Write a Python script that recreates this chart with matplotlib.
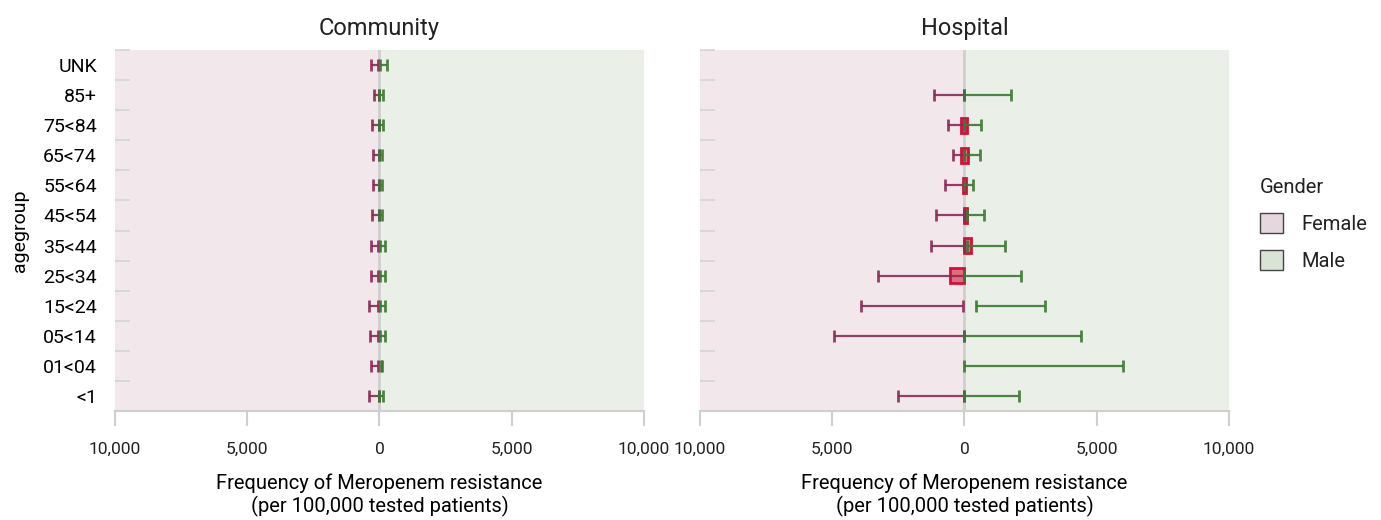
import numpy as np
import matplotlib
matplotlib.use("Agg")
import matplotlib.pyplot as plt
from matplotlib.patches import Patch
from matplotlib.ticker import FuncFormatter

plt.rcParams['font.family'] = ['Roboto', 'DejaVu Sans']
plt.rcParams['text.color'] = '#222222'

# age groups, top to bottom
agegroups = ['UNK', '85+', '75<84', '65<74', '55<64', '45<54',
             '35<44', '25<34', '15<24', '05<14', '01<04', '<1']

# confidence intervals (per 100,000), female values shown to the left
comm_f_lo = [75, 0, 0, 0, 0, 20, 40, 40, 40, 40, 40, 0]
comm_f_hi = [310, 200, 270, 240, 240, 290, 310, 340, 380, 360, 310, 380]
comm_m_lo = [25, 0, 0, 0, 0, 0, 25, 25, 25, 25, 50, 0]
comm_m_hi = [300, 120, 120, 90, 90, 90, 190, 200, 210, 200, 110, 130]

nan = np.nan
hosp_f_lo = [nan, 0, 0, 0, 0, 0, 0, 0, 40, 0, nan, 0]
hosp_f_hi = [nan, 1170, 620, 450, 720, 1090, 1250, 3280, 3920, 4950, nan, 2500]
hosp_m_lo = [nan, 0, 0, 0, 0, 100, 100, 0, 440, 0, 0, 0]
hosp_m_hi = [nan, 1740, 640, 600, 340, 720, 1550, 2150, 3060, 4420, 6000, 2080]

# point estimates (hospital only visible)
hosp_f_est = [0, 0, 150, 130, 70, 0, 0, 550, 0, 0, 0, 0]
hosp_m_est = [0, 0, 100, 130, 50, 100, 250, 0, 0, 0, 0, 0]
comm_f_est = [0] * 12
comm_m_est = [0] * 12

FEMALE = '#8a2b57'
MALE = '#3a7a30'
GRID = '#cfcfcf'

fig = plt.figure(figsize=(13.81, 5.2), dpi=100)
ax1 = fig.add_axes([0.0833, 0.2096, 0.383, 0.6942])
ax2 = fig.add_axes([0.5069, 0.2096, 0.383, 0.6942])

n = len(agegroups)
y = np.arange(n)[::-1]


def draw(ax, title, flo, fhi, mlo, mhi, fest, mest):
    ax.axvspan(-10000, 0, color='#f2e8ec', zorder=0)
    ax.axvspan(0, 10000, color='#eaefe8', zorder=0)
    ax.axvline(0, color=GRID, lw=2, zorder=1)

    fest = np.array(fest, float)
    mest = np.array(mest, float)
    has = (fest + mest) > 0
    ax.barh(y[has], (fest + mest)[has], left=-fest[has], height=0.5,
            facecolor='#e36a78', edgecolor='#d40f3b', linewidth=2, zorder=2)

    flo = np.array(flo, float)
    fhi = np.array(fhi, float)
    mlo = np.array(mlo, float)
    mhi = np.array(mhi, float)
    fm = (-flo - fhi) / 2
    ax.errorbar(fm, y, xerr=(fhi - flo) / 2, fmt='none', ecolor=FEMALE,
                elinewidth=1.6, capsize=4.2, capthick=2, alpha=0.9, zorder=3)
    mm = (mlo + mhi) / 2
    ax.errorbar(mm, y, xerr=(mhi - mlo) / 2, fmt='none', ecolor=MALE,
                elinewidth=1.6, capsize=4.2, capthick=2, alpha=0.9, zorder=3)

    ax.set_xlim(-10000, 10000)
    ax.set_ylim(-0.5, n - 0.5)
    ax.set_xticks([-10000, -5000, 0, 5000, 10000])
    ax.xaxis.set_major_formatter(FuncFormatter(lambda v, p: f'{abs(v):,.0f}'))
    ax.tick_params(axis='x', direction='out', length=11, width=1.5,
                   color=GRID, labelsize=12.5, pad=11, labelcolor='#222222')
    ax.set_yticks(y)
    ax.set_yticks(np.arange(n) + 0.5, minor=True)
    ax.tick_params(axis='y', which='major', length=0, labelsize=14, pad=13)
    ax.tick_params(axis='y', which='minor', direction='in', length=11,
                   width=1.2, color='#d5d5d5')
    for s in ['top', 'right', 'left']:
        ax.spines[s].set_visible(False)
    ax.spines['bottom'].set_color(GRID)
    ax.spines['bottom'].set_linewidth(1.5)
    ax.set_title(title, fontsize=17, pad=11)
    ax.set_xlabel('Frequency of Meropenem resistance\n(per 100,000 tested patients)',
                  fontsize=14.5, labelpad=12, linespacing=1.2)


draw(ax1, 'Community', comm_f_lo, comm_f_hi, comm_m_lo, comm_m_hi,
     comm_f_est, comm_m_est)
draw(ax2, 'Hospital', hosp_f_lo, hosp_f_hi, hosp_m_lo, hosp_m_hi,
     hosp_f_est, hosp_m_est)

ax1.set_yticklabels(agegroups)
ax1.set_ylabel('agegroup', fontsize=14, labelpad=10)
ax2.set_yticklabels([])

handles = [Patch(facecolor='#e6d6dd', edgecolor='#444444', linewidth=1, label='Female'),
           Patch(facecolor='#d9e4d5', edgecolor='#444444', linewidth=1, label='Male')]
fig.legend(handles=handles, title='Gender', loc='center left',
           bbox_to_anchor=(0.899, 0.568), frameon=False, fontsize=14.5,
           title_fontsize=14.5, handlelength=1.15, handleheight=1.15,
           labelspacing=0.8, alignment='left', handletextpad=0.9)

fig.savefig('out.png', dpi=100)
